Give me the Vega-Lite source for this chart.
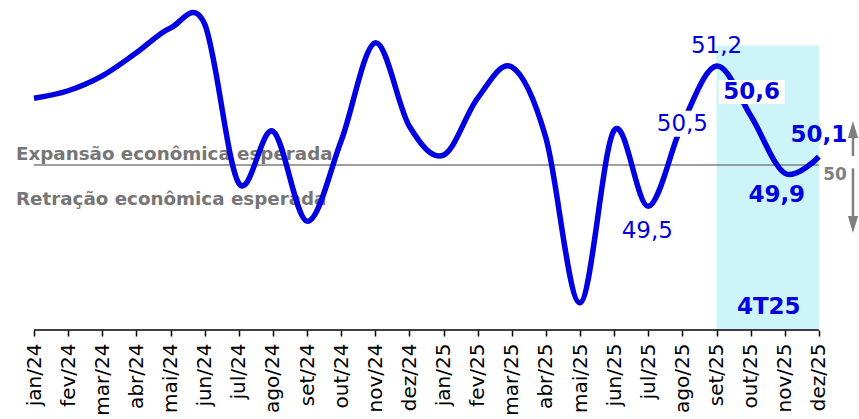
{
  "$schema": "https://vega.github.io/schema/vega-lite/v6.json",
  "width": 819,
  "height": 330,
  "autosize": {"type": "none"},
  "padding": {"left": 34, "top": 0, "right": 6, "bottom": 89},
  "background": "white",
  "config": {
    "view": {"stroke": null},
    "font": "DejaVu Sans",
    "locale": {"number": {"decimal": ",", "thousands": ".", "grouping": [3], "currency": ["R$", ""]}}
  },
  "datasets": {
    "pmi": [
      {"mes": "jan/24", "v": 50.81},
      {"mes": "fev/24", "v": 50.9},
      {"mes": "mar/24", "v": 51.08},
      {"mes": "abr/24", "v": 51.36},
      {"mes": "mai/24", "v": 51.66},
      {"mes": "jun/24", "v": 51.71},
      {"mes": "jul/24", "v": 49.78},
      {"mes": "ago/24", "v": 50.41},
      {"mes": "set/24", "v": 49.32},
      {"mes": "out/24", "v": 50.29},
      {"mes": "nov/24", "v": 51.48},
      {"mes": "dez/24", "v": 50.47},
      {"mes": "jan/25", "v": 50.12},
      {"mes": "fev/25", "v": 50.81},
      {"mes": "mar/25", "v": 51.19},
      {"mes": "abr/25", "v": 50.33},
      {"mes": "mai/25", "v": 48.33},
      {"mes": "jun/25", "v": 50.42},
      {"mes": "jul/25", "v": 49.5},
      {"mes": "ago/25", "v": 50.5},
      {"mes": "set/25", "v": 51.2},
      {"mes": "out/25", "v": 50.6},
      {"mes": "nov/25", "v": 49.9},
      {"mes": "dez/25", "v": 50.1}
    ]
  },
  "encoding": {
    "x": {
      "field": "mes",
      "type": "nominal",
      "sort": null,
      "scale": {
        "type": "point",
        "padding": 0,
        "domain": ["jan/24", "fev/24", "mar/24", "abr/24", "mai/24", "jun/24", "jul/24", "ago/24", "set/24", "out/24", "nov/24", "dez/24",
                   "jan/25", "fev/25", "mar/25", "abr/25", "mai/25", "jun/25", "jul/25", "ago/25", "set/25", "out/25", "nov/25", "dez/25", "seta"]
      },
      "axis": {
        "title": null,
        "values": ["jan/24", "fev/24", "mar/24", "abr/24", "mai/24", "jun/24", "jul/24", "ago/24", "set/24", "out/24", "nov/24", "dez/24",
                   "jan/25", "fev/25", "mar/25", "abr/25", "mai/25", "jun/25", "jul/25", "ago/25", "set/25", "out/25", "nov/25", "dez/25"],
        "domain": false,
        "grid": false,
        "ticks": true,
        "tickSize": 6,
        "tickWidth": 1.5,
        "tickColor": "#000000",
        "labelAngle": -90,
        "labelAlign": "right",
        "labelBaseline": "middle",
        "labelFont": "DejaVu Sans",
        "labelFontSize": 20,
        "labelColor": "#000000",
        "labelPadding": 7,
        "labelOverlap": false,
        "labelBound": false
      }
    },
    "y": {
      "field": "v",
      "type": "quantitative",
      "scale": {"domain": [48, 52], "nice": false, "zero": false},
      "axis": null
    }
  },
  "layer": [
    {
      "data": {"values": [{"mes": "set/25", "mes2": "dez/25", "v": 48, "v2": 51.45}]},
      "mark": {"type": "rect", "fill": "#cdf4f9"},
      "encoding": {"x2": {"field": "mes2"}, "y2": {"field": "v2"}}
    },
    {
      "data": {"values": [{"mes": "jan/24", "v": 50, "t": "Expansão econômica esperada"}]},
      "mark": {"type": "text", "align": "left", "baseline": "alphabetic", "dx": -18, "dy": -5, "fontSize": 18.3, "fontWeight": "bold", "fill": "#767676"},
      "encoding": {"text": {"field": "t"}}
    },
    {
      "data": {"values": [{"mes": "jan/24", "v": 50, "t": "Retração econômica esperada"}]},
      "mark": {"type": "text", "align": "left", "baseline": "alphabetic", "dx": -18, "dy": 40, "fontSize": 18.3, "fontWeight": "bold", "fill": "#767676"},
      "encoding": {"text": {"field": "t"}}
    },
    {
      "data": {"values": [{"mes": "jan/24", "mes2": "dez/25", "v": 50}]},
      "mark": {"type": "rule", "stroke": "#7f7f7f", "strokeWidth": 1.5},
      "encoding": {"x2": {"field": "mes2"}}
    },
    {
      "data": {"values": [{"mes": "jan/24", "mes2": "dez/25", "v": 48}]},
      "mark": {"type": "rule", "stroke": "#000000", "strokeWidth": 1.5},
      "encoding": {"x2": {"field": "mes2"}}
    },
    {
      "data": {"name": "pmi"},
      "mark": {"type": "line", "interpolate": "cardinal", "tension": 0, "stroke": "#0000e1", "strokeWidth": 5.5},
      "encoding": {}
    },
    {
      "data": {"name": "pmi"},
      "transform": [{"filter": "datum.mes == 'ago/25'"}],
      "mark": {"type": "point", "filled": true, "fill": "#ffffff", "opacity": 1, "strokeWidth": 0, "size": 3136, "shape": "M-0.96,-0.46L1,-0.46L1,0.46L-0.96,0.46Z"},
      "encoding": {}
    },
    {
      "data": {"name": "pmi"},
      "transform": [{"filter": "datum.mes == 'out/25'"}],
      "mark": {"type": "point", "filled": true, "fill": "#ffffff", "opacity": 1, "strokeWidth": 0, "size": 4356, "shape": "M-0.97,-1.076L1.03,-1.076L1.03,-0.348L-0.97,-0.348Z"},
      "encoding": {}
    },
    {
      "data": {"name": "pmi"},
      "transform": [{"filter": "datum.mes == 'set/25'"}],
      "mark": {"type": "text", "baseline": "alphabetic", "dy": -13, "fontSize": 23, "fill": "#0000e1"},
      "encoding": {"text": {"field": "v", "type": "quantitative", "format": ".1f"}}
    },
    {
      "data": {"name": "pmi"},
      "transform": [{"filter": "datum.mes == 'ago/25'"}],
      "mark": {"type": "text", "baseline": "alphabetic", "dy": 7, "fontSize": 23, "fill": "#0000e1"},
      "encoding": {"text": {"field": "v", "type": "quantitative", "format": ".1f"}}
    },
    {
      "data": {"name": "pmi"},
      "transform": [{"filter": "datum.mes == 'jul/25'"}],
      "mark": {"type": "text", "baseline": "alphabetic", "dx": -1, "dy": 32, "fontSize": 23, "fill": "#0000e1"},
      "encoding": {"text": {"field": "v", "type": "quantitative", "format": ".1f"}}
    },
    {
      "data": {"name": "pmi"},
      "transform": [{"filter": "datum.mes == 'out/25'"}],
      "mark": {"type": "text", "baseline": "alphabetic", "dx": 1, "dy": -16.5, "fontSize": 23, "fontWeight": "bold", "fill": "#0000e1"},
      "encoding": {"text": {"field": "v", "type": "quantitative", "format": ".1f"}}
    },
    {
      "data": {"name": "pmi"},
      "transform": [{"filter": "datum.mes == 'nov/25'"}],
      "mark": {"type": "text", "baseline": "alphabetic", "dx": -8, "dy": 29, "fontSize": 23, "fontWeight": "bold", "fill": "#0000e1"},
      "encoding": {"text": {"field": "v", "type": "quantitative", "format": ".1f"}}
    },
    {
      "data": {"name": "pmi"},
      "transform": [{"filter": "datum.mes == 'dez/25'"}],
      "mark": {"type": "text", "baseline": "alphabetic", "dy": -15, "fontSize": 23, "fontWeight": "bold", "fill": "#0000e1"},
      "encoding": {"text": {"field": "v", "type": "quantitative", "format": ".1f"}}
    },
    {
      "data": {"values": [{"mes": "nov/25", "v": 48, "t": "4T25"}]},
      "mark": {"type": "text", "baseline": "alphabetic", "dx": -16, "dy": -16, "fontSize": 23, "fontWeight": "bold", "fill": "#0000e1"},
      "encoding": {"text": {"field": "t"}}
    },
    {
      "data": {"values": [{"mes": "seta", "v": 50, "t": "50"}]},
      "mark": {"type": "text", "baseline": "alphabetic", "dx": -18, "dy": 15, "fontSize": 17, "fontWeight": "bold", "fill": "#7f7f7f"},
      "encoding": {"text": {"field": "t"}}
    },
    {
      "data": {"values": [{"mes": "seta", "v": 50.11, "v2": 50.34}, {"mes": "seta", "v": 49.96, "v2": 49.37}]},
      "mark": {"type": "rule", "stroke": "#7f7f7f", "strokeWidth": 2.5},
      "encoding": {"y2": {"field": "v2"}}
    },
    {
      "data": {"values": [{"mes": "seta", "v": 50.43}]},
      "mark": {"type": "point", "filled": true, "fill": "#7f7f7f", "opacity": 1, "strokeWidth": 0, "size": 289, "shape": "M0,-1L0.6,1L-0.6,1Z"},
      "encoding": {}
    },
    {
      "data": {"values": [{"mes": "seta", "v": 49.28}]},
      "mark": {"type": "point", "filled": true, "fill": "#7f7f7f", "opacity": 1, "strokeWidth": 0, "size": 289, "shape": "M0,1L0.6,-1L-0.6,-1Z"},
      "encoding": {}
    }
  ]
}
